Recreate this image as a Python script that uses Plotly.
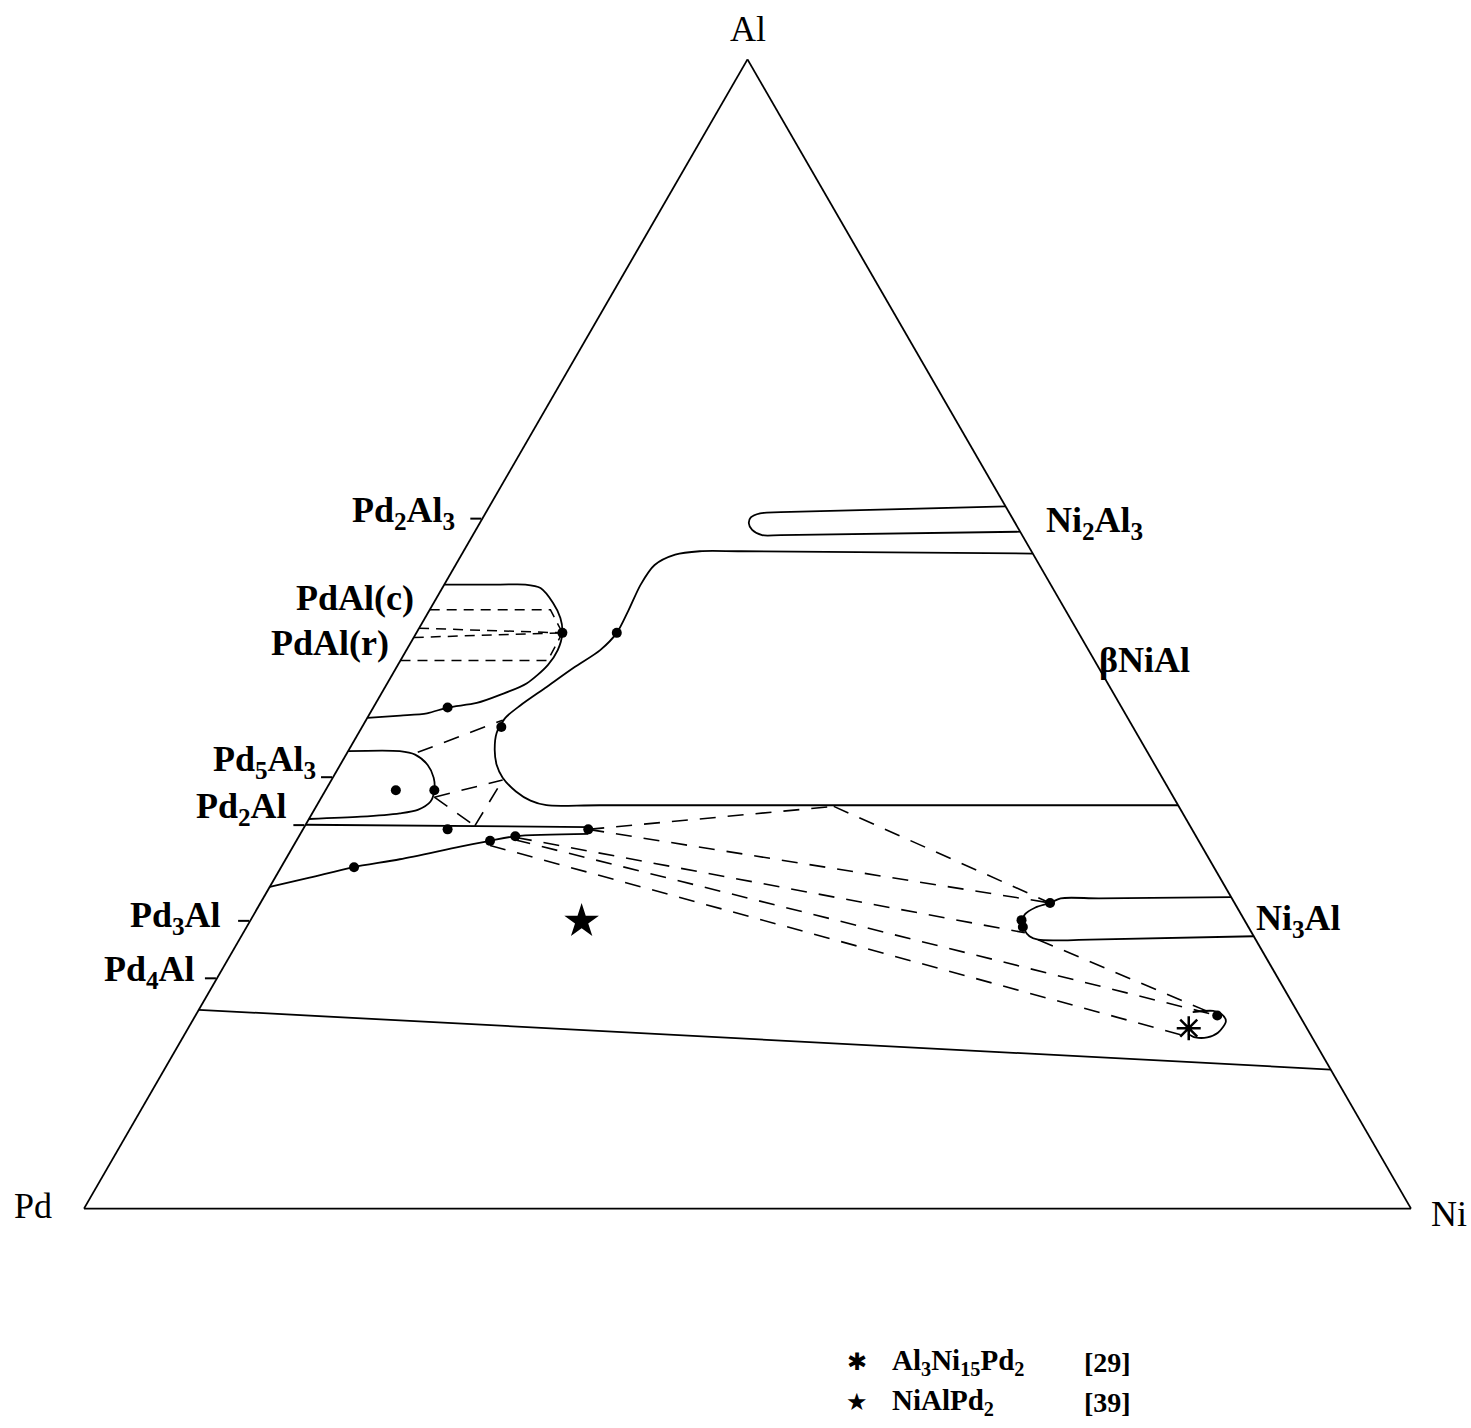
import plotly.graph_objects as go

# Al-Ni-Pd isothermal section, compositions in at.% (Al, Ni, Pd)

# Ni2Al3 field (hairpin)
NI2AL3_AL = [61.1, 60.6, 60.5, 60.2, 59.7, 59.0, 58.6, 58.6, 58.9]
NI2AL3_NI = [38.9, 22.2, 20.7, 20.2, 20.3, 20.8, 21.8, 23.2, 41.1]
NI2AL3_PD = [0.0, 17.2, 18.8, 19.7, 20.1, 20.1, 19.6, 18.2, 0.0]

# beta NiAl field boundary
BETA_AL = [57.0, 57.2, 57.2, 56.9, 56.0, 54.3, 52.1, 50.1, 48.6, 47.1, 45.3, 43.8,
           42.7, 41.4, 39.9, 38.6, 37.5, 36.3, 35.5, 35.1, 35.1, 35.1]
BETA_NI = [43.0, 20.9, 17.8, 16.1, 15.0, 14.8, 15.0, 15.1, 14.6, 13.4, 12.1, 11.0,
           10.4, 10.4, 11.0, 11.8, 12.8, 14.4, 15.9, 17.3, 21.3, 64.9]
BETA_PD = [0.0, 21.9, 25.0, 27.0, 29.0, 30.9, 32.9, 34.8, 36.8, 39.5, 42.6, 45.2,
           46.9, 48.2, 49.1, 49.6, 49.7, 49.3, 48.6, 47.6, 43.6, 0.0]

# PdAl field
PDAL_AL = [54.3, 54.3, 54.3, 54.0, 52.7, 51.4, 50.1, 48.6, 47.3, 45.7, 44.7, 44.0, 43.6, 43.1, 42.9, 42.7]
PDAL_NI = [0.0, 4.2, 6.1, 7.4, 9.0, 10.2, 11.0, 11.4, 11.3, 10.5, 9.0, 7.6, 5.6, 4.3, 2.4, 0.0]
PDAL_PD = [45.7, 41.5, 39.6, 38.6, 38.3, 38.4, 38.9, 40.0, 41.4, 43.8, 46.3, 48.4, 50.8, 52.6, 54.7, 57.3]

# tie lines inside PdAl (c)/(r)
PDAL_TIE_AL = [[52.1, 52.1, 50.1], [50.5, 50.1], [49.7, 50.1], [47.7, 47.7, 50.1]]
PDAL_TIE_NI = [[0.0, 9.1, 11.0], [0.0, 11.0], [0.0, 11.0], [0.0, 11.1, 11.0]]
PDAL_TIE_PD = [[47.9, 38.8, 38.9], [49.5, 38.9], [50.3, 38.9], [52.3, 41.2, 38.9]]

# Pd5Al3 field
PD5AL3_AL = [39.8, 39.8, 39.5, 38.6, 37.5, 36.4, 35.4, 34.7, 34.4, 34.1, 33.9]
PD5AL3_NI = [0.0, 3.9, 5.2, 6.6, 7.6, 8.2, 8.4, 7.8, 6.6, 3.8, 0.0]
PD5AL3_PD = [60.2, 56.3, 55.3, 54.8, 54.9, 55.4, 56.2, 57.5, 59.0, 62.1, 66.1]

# Pd2Al field: upper edge, lower edge
PD2AL_TOP_AL = [33.4, 33.2, 32.6]
PD2AL_TOP_NI = [0.0, 21.4, 21.7]
PD2AL_TOP_PD = [66.6, 45.4, 45.7]
PD2AL_BOT_AL = [32.6, 32.4, 32.0, 31.5, 30.4, 29.7, 28.8, 28.0]
PD2AL_BOT_NI = [21.7, 16.3, 14.6, 12.6, 8.6, 5.4, 2.6, 0.0]
PD2AL_BOT_PD = [45.7, 51.3, 53.4, 55.9, 61.0, 64.9, 68.6, 72.0]

# Ni3Al field
NI3AL_AL = [27.1, 27.0, 27.0, 26.6, 26.2, 25.6, 25.0, 24.3, 23.7, 23.4, 23.4, 23.7]
NI3AL_NI = [72.9, 63.0, 60.1, 59.5, 58.6, 58.1, 58.2, 58.7, 59.4, 60.2, 64.1, 76.3]
NI3AL_PD = [0.0, 10.0, 12.9, 13.9, 15.2, 16.3, 16.8, 17.0, 16.9, 16.4, 12.5, 0.0]

# small Ni-rich loop
GAMMA_AL = [17.1, 17.2, 16.9, 16.3, 15.3, 14.9, 14.9, 15.2]
GAMMA_NI = [75.0, 76.5, 77.3, 77.9, 77.8, 77.2, 76.3, 75.6]
GAMMA_PD = [7.9, 6.3, 5.8, 5.8, 6.9, 7.9, 8.8, 9.2]

# lower boundary line across the section
LOW_AL = [17.3, 12.1]
LOW_NI = [0.0, 87.9]
LOW_PD = [82.7, 0.0]

# dashed tie lines / tie triangles (start, end)
TIE_AL = [[39.7, 42.5], [35.8, 37.3], [35.8, 33.3], [33.3, 37.3],
          [33.0, 35.0], [35.0, 26.6], [33.0, 26.6], [32.3, 24.0],
          [32.1, 16.8], [23.4, 17.0], [31.6, 15.1]]
TIE_NI = [[5.3, 10.3], [8.5, 12.9], [8.5, 12.8], [12.8, 12.9],
          [21.5, 39.0], [39.0, 59.5], [21.5, 59.5], [16.4, 58.9],
          [16.4, 77.0], [60.2, 76.5], [14.8, 75.2]]
TIE_PD = [[55.0, 47.2], [55.7, 49.8], [55.7, 53.9], [53.9, 49.8],
          [45.5, 26.0], [26.0, 13.9], [45.5, 13.9], [51.3, 17.1],
          [51.5, 6.2], [16.4, 6.5], [53.6, 9.7]]

# experimental points
DOT_AL = [50.1, 50.1, 43.6, 41.9, 36.4, 36.4, 33.0, 32.0, 32.4, 33.0, 29.7, 26.6, 25.1, 24.5, 16.8]
DOT_NI = [11.0, 15.1, 5.6, 10.5, 5.3, 8.2, 10.9, 14.6, 16.3, 21.5, 5.5, 59.5, 58.1, 58.5, 77.0]
DOT_PD = [38.9, 34.8, 50.8, 47.6, 58.3, 55.4, 56.1, 53.4, 51.3, 45.5, 64.8, 13.9, 16.8, 17.0, 6.2]

# ternary compounds from literature
STAR_AL, STAR_NI, STAR_PD = [25.0], [25.0], [50.0]          # NiAlPd2 [39]
ASTER_AL, ASTER_NI, ASTER_PD = [15.7], [75.4], [8.9]        # Al3Ni15Pd2 [29]

# binary compounds marked on the Al-Pd side
PD_SIDE_TICKS = [60.0, 37.5, 33.33, 25.0, 20.0]

# phase names
LEFT_NAMES = ["Pd<sub>2</sub>Al<sub>3</sub>", "PdAl(c)", "PdAl(r)", "Pd<sub>5</sub>Al<sub>3</sub>",
              "Pd<sub>2</sub>Al", "Pd<sub>3</sub>Al", "Pd<sub>4</sub>Al"]
RIGHT_NAMES = ["Ni<sub>2</sub>Al<sub>3</sub>", "βNiAl", "Ni<sub>3</sub>Al"]

FONT = "Liberation Serif"
LW = 1.8
DASH = "16px,12px"
W, H = 1471, 1428

fig = go.Figure()


def add_line(al, ni, pd, dash="solid", shape="linear", width=LW):
    fig.add_trace(go.Scatterternary(
        a=al, b=pd, c=ni, mode="lines",
        line=dict(color="black", width=width, dash=dash, shape=shape, smoothing=0.8),
        hoverinfo="skip", showlegend=False, cliponaxis=False))


add_line(NI2AL3_AL, NI2AL3_NI, NI2AL3_PD, shape="spline")
add_line(BETA_AL, BETA_NI, BETA_PD, shape="spline")
add_line(PDAL_AL, PDAL_NI, PDAL_PD, shape="spline")
add_line(PD5AL3_AL, PD5AL3_NI, PD5AL3_PD, shape="spline")
add_line(PD2AL_TOP_AL, PD2AL_TOP_NI, PD2AL_TOP_PD)
add_line(PD2AL_BOT_AL, PD2AL_BOT_NI, PD2AL_BOT_PD, shape="spline")
add_line(NI3AL_AL, NI3AL_NI, NI3AL_PD, shape="spline")
add_line(GAMMA_AL, GAMMA_NI, GAMMA_PD, shape="spline")
add_line(LOW_AL, LOW_NI, LOW_PD)

for al, ni, pd in zip(PDAL_TIE_AL, PDAL_TIE_NI, PDAL_TIE_PD):
    add_line(al, ni, pd, dash="10px,7px", width=1.5)
for al, ni, pd in zip(TIE_AL, TIE_NI, TIE_PD):
    add_line(al, ni, pd, dash=DASH, width=1.6)

fig.add_trace(go.Scatterternary(
    a=DOT_AL, b=DOT_PD, c=DOT_NI, mode="markers",
    marker=dict(color="black", size=10), hoverinfo="skip", showlegend=False))
fig.add_trace(go.Scatterternary(
    a=STAR_AL, b=STAR_PD, c=STAR_NI, mode="markers",
    marker=dict(color="black", size=26, symbol="star"), hoverinfo="skip", showlegend=False))
fig.add_trace(go.Scatterternary(
    a=ASTER_AL, b=ASTER_PD, c=ASTER_NI, mode="markers",
    marker=dict(color="black", size=20, symbol="asterisk-open", line=dict(width=2.5, color="black")),
    hoverinfo="skip", showlegend=False))

axis_common = dict(showline=True, linecolor="black", linewidth=LW, showgrid=False,
                   showticklabels=False, title=dict(text=""))

fig.update_layout(
    width=W, height=H,
    margin=dict(l=0, r=0, t=0, b=0),
    paper_bgcolor="white",
    template="none",
    showlegend=False,
    ternary=dict(
        sum=100,
        bgcolor="white",
        domain=dict(x=[84 / W, 1411 / W], y=[219 / H, 1369 / H]),
        aaxis=dict(axis_common, ticks="outside", ticklen=11, tickwidth=1.8, tickcolor="black",
                   tickmode="array", tickvals=PD_SIDE_TICKS),
        baxis=dict(axis_common, ticks=""),
        caxis=dict(axis_common, ticks=""),
    ),
)


def label(text, px, py, anchor, size=36, bold=True, family=FONT):
    fig.add_annotation(x=px / W, y=1 - py / H, xref="paper", yref="paper",
                       text="<b>%s</b>" % text if bold else text,
                       showarrow=False, xanchor=anchor, yanchor="middle",
                       font=dict(family=family, size=size, color="black"))


# corner labels
label("Al", 748, 29, "center", bold=False)
label("Pd", 54, 1206, "right", bold=False)
label("Ni", 1429, 1214, "left", bold=False)

# phase names beside the edges
for name, (px, py) in zip(LEFT_NAMES, [(457, 512), (416, 598), (391, 643), (318, 761),
                                       (289, 808), (223, 917), (197, 971)]):
    label(name, px, py, "right")
for name, (px, py) in zip(RIGHT_NAMES, [(1044, 522), (1097, 660), (1254, 920)]):
    label(name, px, py, "left")

# key for the two ternary compounds
legend_rows = [
    ("✱", "Al<sub>3</sub>Ni<sub>15</sub>Pd<sub>2</sub>", "[29]", 1362),
    ("★", "NiAlPd<sub>2</sub>", "[39]", 1402),
]
for sym, name, ref, py in legend_rows:
    label(sym, 857, py, "center", size=24, bold=False, family="DejaVu Sans")
    label(name, 890, py, "left", size=29)
    label(ref, 1082, py, "left", size=28)

fig.write_html("out.html", post_script="document.body.style.margin='0px';",
               config={"displayModeBar": False})
